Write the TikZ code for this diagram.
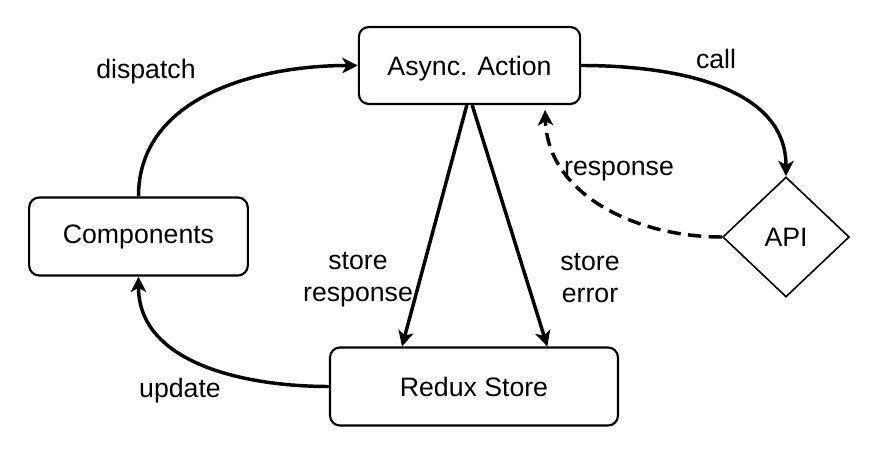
\documentclass[tikz,border=0pt]{standalone}
\usepackage{fontspec}
\setmainfont{Liberation Sans}
\usetikzlibrary{arrows.meta,shapes.geometric}

\begin{document}
\begin{tikzpicture}[x=0.75pt, y=-0.75pt,
  every node/.style={font=\fontsize{20}{24}\selectfont},
  block/.style={draw, line width=1.6pt, rounded corners=7.5pt, minimum height=58.5pt, align=center},
  decision/.style={draw, diamond, line width=1.2pt, minimum width=95pt, minimum height=90pt, inner sep=0pt},
  flow/.style={line width=2.6pt, -{Stealth[length=11.5pt, width=11.5pt, inset=3pt]}}]
  \useasboundingbox (0,0) rectangle (878,460);
  % boxes
  \node[block, minimum width=166pt, minimum height=57.75pt, text depth=0pt] (async) at (469.5,65.5) {Async. Action};
  \node[block, minimum width=164pt] (comp) at (138.5,236.5) {Components};
  \node[block, minimum width=216pt] (redux) at (474,386.5) {Redux Store};
  \node[decision] (api) at (786,237) {API};
  \coordinate (respEnd) at (545,110);
  % connectors
  \draw[flow] (comp.north) to[out=90, in=180] (async.west);
  \draw[flow] (async.east) to[out=0, in=90] (api.north);
  \draw[flow, dash pattern=on 10pt off 5.5pt] (api.west) to[out=180, in=-88] (respEnd);
  \draw[flow] ([xshift=-2pt]async.south) -- ([xshift=-54pt]redux.north);
  \draw[flow] ([xshift=2pt]async.south) -- ([xshift=55pt]redux.north);
  \draw[flow] (redux.west) to[out=180, in=-90] (comp.south);
  % labels
  \node (dispatchLbl) at (146,72) {dispatch};
  \node (callLbl) at (716,59) {call};
  \node (responseLbl) at (619,171) {response};
  \node[align=center] (storeRespLbl) at (358,280) {store\\response};
  \node[align=center] (storeErrLbl) at (590,278) {store\\error};
  \node (updateLbl) at (180,391) {update};
\end{tikzpicture}
\end{document}
